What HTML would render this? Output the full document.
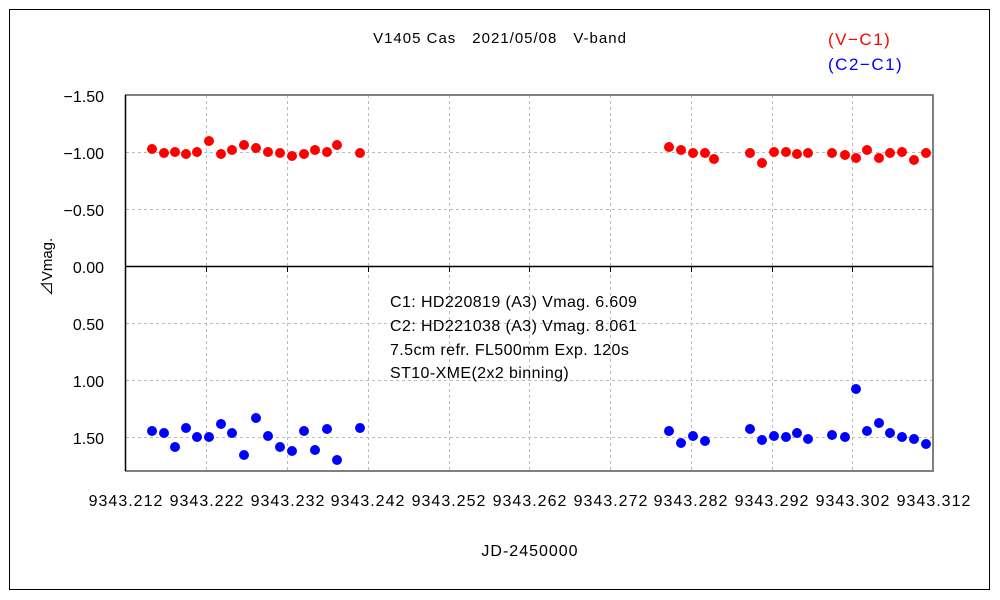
<!DOCTYPE html>
<html><head><style>body{margin:0;background:#fff}svg{display:block}text{font-family:"Liberation Sans","Noto Sans CJK JP",sans-serif}</style></head>
<body>
<svg width="1000" height="600" xmlns="http://www.w3.org/2000/svg">
<rect x="9.5" y="9.5" width="980" height="580" fill="#fff" stroke="#000" stroke-width="1"/>
<g stroke="#bbb" stroke-dasharray="3,3" stroke-width="1">
<line x1="126" y1="152.5" x2="933" y2="152.5"/><line x1="126" y1="209.5" x2="933" y2="209.5"/>
<line x1="126" y1="323.5" x2="933" y2="323.5"/><line x1="126" y1="380.5" x2="933" y2="380.5"/><line x1="126" y1="437.5" x2="933" y2="437.5"/>
<line x1="206.5" y1="95" x2="206.5" y2="471"/><line x1="287.5" y1="95" x2="287.5" y2="471"/><line x1="368.5" y1="95" x2="368.5" y2="471"/><line x1="449.5" y1="95" x2="449.5" y2="471"/><line x1="529.5" y1="95" x2="529.5" y2="471"/><line x1="610.5" y1="95" x2="610.5" y2="471"/><line x1="691.5" y1="95" x2="691.5" y2="471"/><line x1="772.5" y1="95" x2="772.5" y2="471"/><line x1="852.5" y1="95" x2="852.5" y2="471"/>
</g>
<polyline points="125,95 933,95 933,471 125,471" fill="none" stroke="#808080" stroke-width="2"/>
<line x1="125.5" y1="95" x2="125.5" y2="471" stroke="#000" stroke-width="1.5"/>
<line x1="125" y1="266.5" x2="933" y2="266.5" stroke="#000" stroke-width="1.5"/>
<g stroke="#000"><line x1="206.5" y1="266" x2="206.5" y2="272"/><line x1="287.5" y1="266" x2="287.5" y2="272"/><line x1="368.5" y1="266" x2="368.5" y2="272"/><line x1="449.5" y1="266" x2="449.5" y2="272"/><line x1="529.5" y1="266" x2="529.5" y2="272"/><line x1="610.5" y1="266" x2="610.5" y2="272"/><line x1="691.5" y1="266" x2="691.5" y2="272"/><line x1="772.5" y1="266" x2="772.5" y2="272"/><line x1="852.5" y1="266" x2="852.5" y2="272"/></g>
<g font-size="16" text-anchor="end" fill="#000">
<text x="104" y="102">−1.50</text><text x="104" y="159">−1.00</text><text x="104" y="216">−0.50</text><text x="104" y="273">0.00</text><text x="104" y="330">0.50</text><text x="104" y="387">1.00</text><text x="104" y="444">1.50</text></g>
<g font-size="16" text-anchor="middle" letter-spacing="1">
<text x="126" y="506">9343.212</text><text x="207" y="506">9343.222</text><text x="288" y="506">9343.232</text><text x="368" y="506">9343.242</text><text x="449" y="506">9343.252</text><text x="530" y="506">9343.262</text><text x="611" y="506">9343.272</text><text x="691" y="506">9343.282</text><text x="772" y="506">9343.292</text><text x="853" y="506">9343.302</text><text x="934" y="506">9343.312</text>
<text x="530" y="556">JD-2450000</text>
<text x="500" y="43" font-size="15">V1405 Cas　2021/05/08　V-band</text></g>
<text x="52" y="267" font-size="15" transform="rotate(-90 52 267)" text-anchor="middle">⊿Vmag.</text>
<text x="828" y="45" font-size="17" fill="#f00" letter-spacing="1.5">(V−C1)</text>
<text x="828" y="70" font-size="17" fill="#00f" letter-spacing="1.5">(C2−C1)</text>
<g font-size="16" letter-spacing="0.4"><text x="390" y="307">C1: HD220819 (A3) Vmag. 6.609</text><text x="390" y="331">C2: HD221038 (A3) Vmag. 8.061</text><text x="390" y="355">7.5cm refr. FL500mm  Exp. 120s</text><text x="390" y="378">ST10-XME(2x2 binning)</text></g>
<g fill="#f00">
<circle cx="152" cy="149" r="5"/><circle cx="164" cy="153" r="5"/><circle cx="175" cy="152" r="5"/><circle cx="186" cy="154" r="5"/><circle cx="197" cy="152" r="5"/><circle cx="209" cy="141" r="5"/><circle cx="221" cy="154" r="5"/><circle cx="232" cy="150" r="5"/><circle cx="244" cy="145" r="5"/><circle cx="256" cy="148" r="5"/><circle cx="268" cy="152" r="5"/><circle cx="280" cy="153" r="5"/><circle cx="292" cy="156" r="5"/><circle cx="304" cy="154" r="5"/><circle cx="315" cy="150" r="5"/><circle cx="327" cy="152" r="5"/><circle cx="337" cy="145" r="5"/><circle cx="360" cy="153" r="5"/>
<circle cx="669" cy="147" r="5"/><circle cx="681" cy="150" r="5"/><circle cx="693" cy="153" r="5"/><circle cx="705" cy="153" r="5"/><circle cx="714" cy="159" r="5"/><circle cx="750" cy="153" r="5"/><circle cx="762" cy="163" r="5"/><circle cx="774" cy="152" r="5"/><circle cx="786" cy="152" r="5"/><circle cx="797" cy="154" r="5"/><circle cx="808" cy="153" r="5"/><circle cx="832" cy="153" r="5"/><circle cx="845" cy="155" r="5"/><circle cx="856" cy="158" r="5"/><circle cx="867" cy="150" r="5"/><circle cx="879" cy="158" r="5"/><circle cx="890" cy="153" r="5"/><circle cx="902" cy="152" r="5"/><circle cx="914" cy="160" r="5"/><circle cx="926" cy="153" r="5"/></g>
<g fill="#00f">
<circle cx="152" cy="431" r="5"/><circle cx="164" cy="433" r="5"/><circle cx="175" cy="447" r="5"/><circle cx="186" cy="428" r="5"/><circle cx="197" cy="437" r="5"/><circle cx="209" cy="437" r="5"/><circle cx="221" cy="424" r="5"/><circle cx="232" cy="433" r="5"/><circle cx="244" cy="455" r="5"/><circle cx="256" cy="418" r="5"/><circle cx="268" cy="436" r="5"/><circle cx="280" cy="447" r="5"/><circle cx="292" cy="451" r="5"/><circle cx="304" cy="431" r="5"/><circle cx="315" cy="450" r="5"/><circle cx="327" cy="429" r="5"/><circle cx="337" cy="460" r="5"/><circle cx="360" cy="428" r="5"/>
<circle cx="669" cy="431" r="5"/><circle cx="681" cy="443" r="5"/><circle cx="693" cy="436" r="5"/><circle cx="705" cy="441" r="5"/><circle cx="750" cy="429" r="5"/><circle cx="762" cy="440" r="5"/><circle cx="774" cy="436" r="5"/><circle cx="786" cy="437" r="5"/><circle cx="797" cy="433" r="5"/><circle cx="808" cy="439" r="5"/><circle cx="832" cy="435" r="5"/><circle cx="845" cy="437" r="5"/><circle cx="856" cy="389" r="5"/><circle cx="867" cy="431" r="5"/><circle cx="879" cy="423" r="5"/><circle cx="890" cy="433" r="5"/><circle cx="902" cy="437" r="5"/><circle cx="914" cy="439" r="5"/><circle cx="926" cy="444" r="5"/></g>
</svg>
</body></html>
